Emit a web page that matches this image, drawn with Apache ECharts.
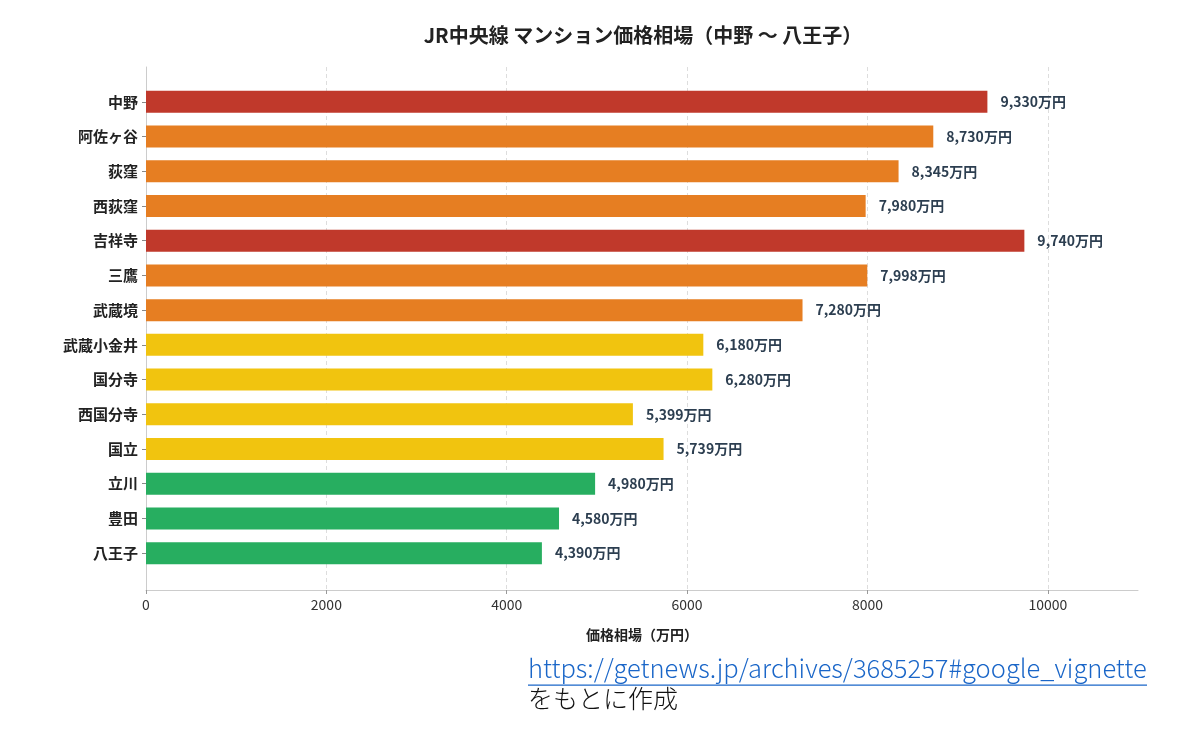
<!DOCTYPE html>
<html>
<head>
<meta charset="utf-8">
<script src="https://cdn.jsdelivr.net/npm/echarts@6/dist/echarts.min.js"></script>
<style>
  html, body { margin: 0; padding: 0; background: #fff; }
  #chart { width: 1200px; height: 730px; }
</style>
</head>
<body>
<div id="chart"></div>
<script>
// station names, top to bottom
var stations = ['中野', '阿佐ヶ谷', '荻窪', '西荻窪', '吉祥寺', '三鷹', '武蔵境', '武蔵小金井', '国分寺', '西国分寺', '国立', '立川', '豊田', '八王子'];
// price (万円)
var prices = [9330, 8730, 8345, 7980, 9740, 7998, 7280, 6180, 6280, 5399, 5739, 4980, 4580, 4390];
var xTicks = [0, 2000, 4000, 6000, 8000, 10000];

var FONT = '"Noto Sans CJK JP", "Noto Sans", sans-serif';

function barColor(v) {
  if (v >= 9000) return '#c0392b';
  if (v >= 7000) return '#e67e22';
  if (v >= 5000) return '#f1c40f';
  return '#27ae60';
}

function fmt(v) {
  return v.toString().replace(/\B(?=(\d{3})+(?!\d))/g, ',') + '万円';
}

var barData = prices.map(function(v) {
  return { value: v, itemStyle: { color: barColor(v) } };
});

var chart = echarts.init(document.getElementById('chart'));
var option = {
  backgroundColor: '#fff',
  animation: false,
  title: {
    text: 'JR中央線 マンション価格相場（中野 〜 八王子）',
    left: 638,
    textAlign: 'center',
    top: 20,
    textStyle: { fontFamily: FONT, fontSize: 20, fontWeight: 'bold', color: '#222' }
  },
  grid: [
    { left: 146, right: 62, top: 84.5, height: 486, containLabel: false },
    { left: 146, right: 62, top: 67, height: 523, containLabel: false }
  ],
  xAxis: [
    { gridIndex: 0, type: 'value', min: 0, max: 11000, show: false },
    {
      gridIndex: 1, type: 'value', min: 0, max: 11000, interval: 2000,
      name: '価格相場（万円）', nameLocation: 'middle', nameGap: 38,
      nameTextStyle: { fontFamily: FONT, fontSize: 14, fontWeight: 'bold', color: '#222' },
      axisLine: { show: true, lineStyle: { color: '#cccccc', width: 1 } },
      axisTick: { show: true, length: 4, lineStyle: { color: '#999' }, customValues: xTicks },
      axisLabel: {
        fontFamily: FONT, fontSize: 14, color: '#333', margin: 8, customValues: xTicks,
        formatter: function(v) { return String(v); }
      },
      splitLine: { show: true, customValues: xTicks, lineStyle: { color: '#dddddd', type: [4, 3], width: 1 } }
    }
  ],
  yAxis: [
    {
      gridIndex: 0, type: 'category', data: stations, inverse: true,
      axisLine: { show: false },
      axisTick: { show: true, alignWithLabel: true, length: 4, lineStyle: { color: '#888' } },
      axisLabel: { fontFamily: FONT, fontSize: 15, fontWeight: 'bold', color: '#222', margin: 8 },
      splitLine: { show: false }
    },
    {
      gridIndex: 1, type: 'category', data: stations,
      axisLine: { show: true, lineStyle: { color: '#cccccc', width: 1 } },
      axisTick: { show: false }, axisLabel: { show: false }, splitLine: { show: false }
    }
  ],
  series: [{
    type: 'bar',
    xAxisIndex: 0, yAxisIndex: 0,
    data: barData,
    barWidth: 22,
    label: {
      show: true, position: 'right', distance: 13,
      fontFamily: FONT, fontSize: 14, fontWeight: 'bold', color: '#2c3e50',
      formatter: function(p) { return fmt(p.value); }
    }
  }],
  graphic: [
    {
      type: 'text', left: 528, top: 656,
      style: {
        text: 'https://getnews.jp/archives/3685257#google_vignette',
        font: '300 25.5px ' + FONT, fill: '#1a66c8'
      }
    },
    {
      type: 'rect', shape: { x: 528, y: 684.5, width: 619, height: 1.2 },
      style: { fill: '#1a66c8' }
    },
    {
      type: 'text', left: 528, top: 686,
      style: { text: 'をもとに作成', font: '300 25px ' + FONT, fill: '#111' }
    }
  ]
};
chart.setOption(option);
</script>
</body>
</html>
